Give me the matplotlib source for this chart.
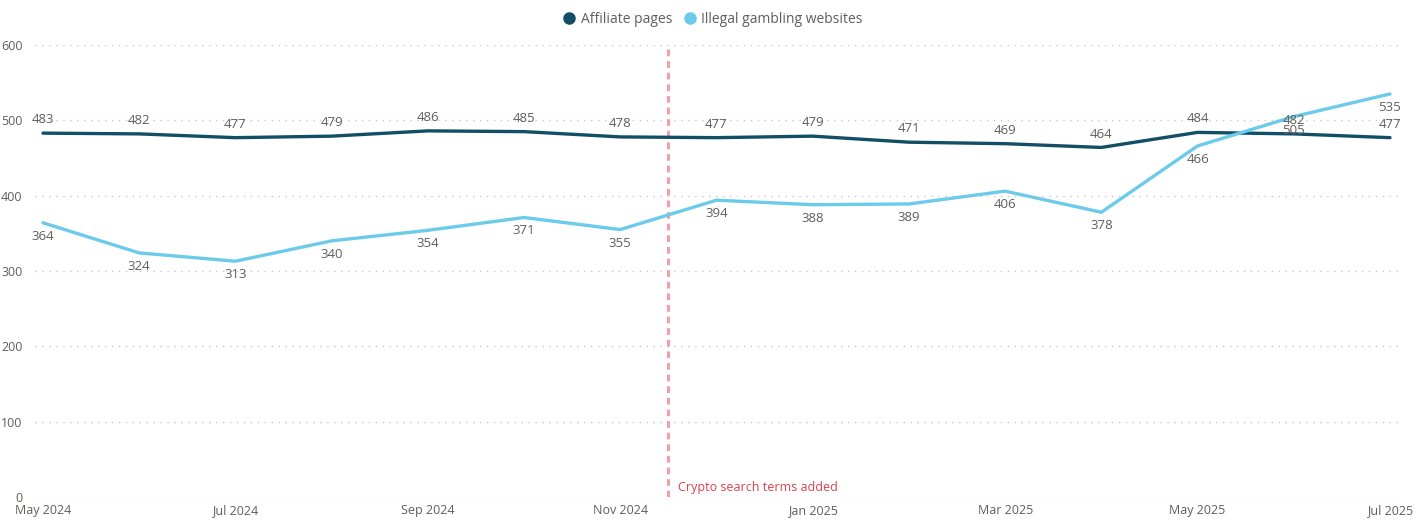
import matplotlib.pyplot as plt
from matplotlib.lines import Line2D

plt.rcParams['font.family'] = ['Open Sans', 'DejaVu Sans']

MONTHS = ['May 2024', 'Jun 2024', 'Jul 2024', 'Aug 2024', 'Sep 2024', 'Oct 2024',
          'Nov 2024', 'Dec 2024', 'Jan 2025', 'Feb 2025', 'Mar 2025', 'Apr 2025',
          'May 2025', 'Jun 2025', 'Jul 2025']
AFFILIATE = [483, 482, 477, 479, 486, 485, 478, 477, 479, 471, 469, 464, 484, 482, 477]
ILLEGAL = [364, 324, 313, 340, 354, 371, 355, 394, 388, 389, 406, 378, 466, 505, 535]
EVENT_X = 6.5
EVENT_LABEL = 'Crypto search terms added'

DARK = '#124E66'
LIGHT = '#6CCAEA'
GREY = '#605E5C'

fig = plt.figure(figsize=(14.18, 5.27), dpi=100)
ax = fig.add_axes([35 / 1418, 30 / 527, 1365 / 1418, 452 / 527])

x = list(range(len(MONTHS)))
ax.plot(x, AFFILIATE, color=DARK, lw=2.4, solid_capstyle='round', zorder=3)
ax.plot(x, ILLEGAL, color=LIGHT, lw=2.4, solid_capstyle='round', zorder=3)

for xi, v in zip(x, AFFILIATE):
    ax.annotate(str(v), (xi, v), xytext=(0, 5), textcoords='offset points',
                ha='center', va='bottom', fontsize=9.5, color=GREY)
for xi, v in zip(x, ILLEGAL):
    ax.annotate(str(v), (xi, v), xytext=(0, -5), textcoords='offset points',
                ha='center', va='top', fontsize=9.5, color=GREY)

ax.axvline(EVENT_X, color='#F0A0A6', lw=2.2, ls=(0, (2.2, 1.6)), zorder=2)
ax.text(EVENT_X + 0.1, 12, EVENT_LABEL, color='#D9434E', fontsize=9,
        ha='left', va='center')

ax.set_xlim(-0.083, 14.104)
ax.set_ylim(0, 600)
ax.set_yticks(range(0, 601, 100))
ax.set_xticks(x[::2])
ax.set_xticklabels(MONTHS[::2])
ax.grid(axis='y', color='#C8C8C8', ls=(0, (1, 4)), lw=1)
ax.set_axisbelow(True)
for s in ax.spines.values():
    s.set_visible(False)
ax.tick_params(length=0, labelsize=9, colors=GREY, pad=5)
ax.tick_params(axis='y', pad=9)

handles = [Line2D([], [], marker='o', ls='', color=DARK, markersize=8),
           Line2D([], [], marker='o', ls='', color=LIGHT, markersize=8)]
fig.legend(handles, ['Affiliate pages', 'Illegal gambling websites'],
           loc='upper center', bbox_to_anchor=(0.5, 0.995), ncol=2, frameon=False,
           fontsize=10, labelcolor=GREY, handletextpad=-0.2, columnspacing=0.3,
           borderaxespad=0.3)

fig.savefig('out.png', dpi=100)
